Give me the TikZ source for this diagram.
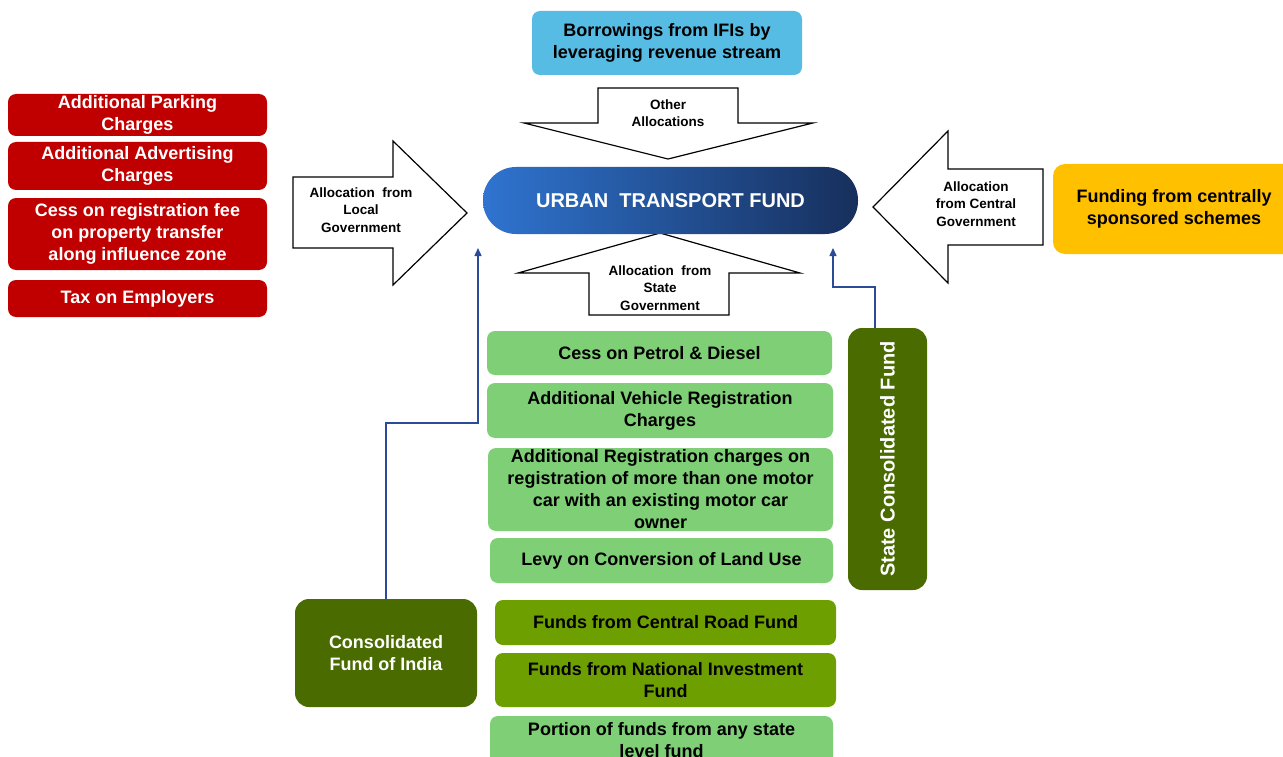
\documentclass[tikz,border=0pt]{standalone}
\usepackage{fontspec}
\setmainfont{Liberation Sans}
\usetikzlibrary{arrows.meta,calc}
\definecolor{cRed}{HTML}{C00000}
\definecolor{cSky}{HTML}{56BCE3}
\definecolor{cYel}{HTML}{FFC000}
\definecolor{cLgr}{HTML}{7FCF76}
\definecolor{cOli}{HTML}{6E9F00}
\definecolor{cDgr}{HTML}{4A6B00}
\definecolor{cLine}{HTML}{2C4A9A}
\definecolor{cFundL}{HTML}{2F74D0}
\definecolor{cFundR}{HTML}{172F5C}
\tikzset{
  box/.style={rounded corners=8pt, inner sep=0pt, align=center, font=\fontsize{18}{22}\selectfont\bfseries},
  redbox/.style={box, fill=cRed, text=white},
  skybox/.style={box, fill=cSky, text=black},
  yelbox/.style={box, fill=cYel, text=black, rounded corners=12pt},
  lgrbox/.style={box, fill=cLgr, text=black},
  olibox/.style={box, fill=cOli, text=black},
  dgrbox/.style={box, fill=cDgr, text=white, rounded corners=14pt},
  blockarrow/.style={draw=black, line width=1.2pt, fill=white, line join=miter},
  arrlabel/.style={align=center, inner sep=0pt, font=\fontsize{13.5}{17.5}\selectfont\bfseries},
  conn/.style={draw=cLine, line width=1.4pt, -{Triangle[width=7pt,length=8pt]}}
}
\begin{document}
\begin{tikzpicture}[x=1pt,y=-1pt]
\useasboundingbox (0,0) rectangle (1283,757);
\fill[white] (0,0) rectangle (1283,757);

% red boxes
\node[redbox, minimum width=259pt, minimum height=42pt] (r1) at (137.5,115) {Additional Parking\\Charges};
\node[redbox, minimum width=259pt, minimum height=48pt] (r2) at (137.5,166) {Additional Advertising\\Charges};
\node[redbox, minimum width=259pt, minimum height=72pt] (r3) at (137.5,234) {Cess on registration fee\\on property transfer\\along influence zone};
\node[redbox, minimum width=259pt, minimum height=37pt] (r4) at (137.5,298.5) {Tax on Employers};

% top box
\node[skybox, minimum width=270pt, minimum height=64pt] (ifi) at (667,43) {Borrowings from IFIs by\\leveraging revenue stream};

% yellow box
\node[yelbox, minimum width=242pt, minimum height=90pt] (css) at (1174,209) {Funding from centrally\\sponsored schemes};

% block arrows
\draw[blockarrow] (293,177) -- (393,177) -- (393,141) -- (467,213) -- (393,285) -- (393,248) -- (293,248) -- cycle;
\node[arrlabel] (alocal) at (361,210) {Allocation\ \ from\\Local\\Government};

\draw[blockarrow] (598,88) -- (738,88) -- (738,123) -- (813,123) -- (668,159) -- (524,123) -- (598,123) -- cycle;
\node[arrlabel] (aother) at (668,113) {Other\\Allocations};

\draw[blockarrow] (660,233) -- (800,273) -- (729,273) -- (729,315) -- (589,315) -- (589,273) -- (518,273) -- cycle;
\node[arrlabel] (astate) at (660,288) {Allocation\ \ from\\State\\Government};

\draw[blockarrow] (873,207) -- (948,131) -- (948,169) -- (1043,169) -- (1043,245) -- (948,245) -- (948,283) -- cycle;
\node[arrlabel] (acentral) at (976,204) {Allocation\\from Central\\Government};

% central fund
\node[rounded corners=33pt, minimum width=375pt, minimum height=67pt, inner sep=0pt, left color=cFundL, right color=cFundR, text=white, font=\fontsize{20}{24}\selectfont\bfseries] (utf) at (670.5,200.5) {URBAN\ \ TRANSPORT FUND};

% green boxes
\node[lgrbox, minimum width=345pt, minimum height=44pt] (g1) at (659.5,353) {Cess on Petrol \& Diesel};
\node[lgrbox, minimum width=346pt, minimum height=55pt] (g2) at (660,410.5) {Additional Vehicle Registration\\Charges};
\node[lgrbox, minimum width=345pt, minimum height=83pt] (g3) at (660.5,489.5) {Additional Registration charges on\\registration of more than one motor\\car with an existing motor car\\owner};
\node[lgrbox, minimum width=343pt, minimum height=45pt] (g4) at (661.5,560.5) {Levy on Conversion of Land Use};
\node[olibox, minimum width=341pt, minimum height=45pt] (o1) at (665.5,622.5) {Funds from Central Road Fund};
\node[olibox, minimum width=341pt, minimum height=54pt] (o2) at (665.5,680) {Funds from National Investment\\Fund};
\node[lgrbox, minimum width=343pt, minimum height=48pt] (g5) at (661.5,740) {Portion of funds from any state\\level fund};

% dark green boxes
\node[dgrbox, minimum width=79pt, minimum height=262pt] (scf) at (887.5,459) {};
\node[rotate=90, text=white, inner sep=0pt, font=\fontsize{20}{24}\selectfont\bfseries] (scftext) at (scf.center) {State Consolidated Fund};
\node[dgrbox, minimum width=182pt, minimum height=108pt] (cfi) at (386,653) {Consolidated\\Fund of India};

% connectors
\coordinate (endL) at (478,248);
\coordinate (endR) at (833,248);
\draw[conn] (cfi.north) -- (386,423) -- (478,423) -- (endL);
\draw[conn] ([xshift=-12.5pt]scf.north) -- (875,287) -- (833,287) -- (endR);
\end{tikzpicture}
\end{document}
